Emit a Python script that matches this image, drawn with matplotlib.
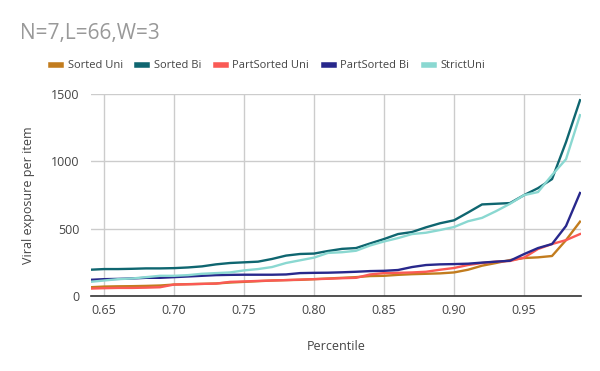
import matplotlib
matplotlib.use("Agg")
import matplotlib.pyplot as plt
from matplotlib.lines import Line2D

percentile = [0.64, 0.65, 0.66, 0.67, 0.68, 0.69, 0.70, 0.71, 0.72, 0.73, 0.74, 0.75,
              0.76, 0.77, 0.78, 0.79, 0.80, 0.81, 0.82, 0.83, 0.84, 0.85, 0.86, 0.87,
              0.88, 0.89, 0.90, 0.91, 0.92, 0.93, 0.94, 0.95, 0.96, 0.97, 0.98, 0.99]

sorted_uni = [65, 70, 72, 73, 75, 78, 85, 88, 90, 93, 100, 105,
              110, 115, 118, 120, 125, 130, 135, 140, 148, 150, 157, 162,
              165, 168, 175, 195, 225, 245, 267, 282, 287, 297, 415, 552]
sorted_bi = [195, 200, 200, 202, 205, 205, 207, 212, 220, 235, 245, 250,
             255, 275, 300, 312, 315, 334, 350, 356, 390, 423, 460, 475,
             510, 540, 562, 620, 680, 685, 690, 749, 801, 868, 1143, 1454]
partsorted_uni = [55, 58, 60, 60, 62, 65, 85, 87, 90, 92, 105, 108,
                  112, 115, 118, 122, 125, 128, 132, 135, 160, 170, 172, 175,
                  180, 195, 208, 230, 245, 255, 260, 285, 349, 386, 415, 460]
partsorted_bi = [120, 125, 127, 130, 135, 135, 140, 145, 150, 155, 157, 158,
                 158, 158, 160, 170, 172, 173, 176, 180, 185, 187, 193, 215,
                 230, 235, 237, 240, 248, 255, 262, 311, 356, 386, 520, 765]
strict_uni = [105, 115, 125, 130, 140, 150, 150, 155, 165, 170, 175, 190,
              200, 215, 245, 265, 285, 320, 325, 336, 375, 405, 430, 460,
              470, 490, 512, 555, 580, 630, 685, 749, 772, 898, 1016, 1343]

series_names = ["Sorted Uni", "Sorted Bi", "PartSorted Uni", "PartSorted Bi", "StrictUni"]
series_values = [sorted_uni, sorted_bi, partsorted_uni, partsorted_bi, strict_uni]
colors = ["#c27c1e", "#0f6670", "#fa5a55", "#28288c", "#8ad8d1"]

x_ticks = [0.65, 0.70, 0.75, 0.80, 0.85, 0.90, 0.95]
y_ticks = [0, 500, 1000, 1500]

plt.rcParams['font.family'] = ['Open Sans', 'DejaVu Sans']

fig = plt.figure(figsize=(6, 3.71), dpi=100)
ax = fig.add_axes([91/600, (371-296)/371, 490/600, (296-94)/371])

order = [4, 1, 3, 0, 2]
for i in order:
    ax.plot(percentile, series_values[i], color=colors[i], lw=1.7, zorder=3 + i * 0.1)

ax.set_xlim(0.6407, 0.9907)
ax.set_ylim(0, 1500)
ax.set_xticks(x_ticks)
ax.set_xticklabels([f"{t:.2f}" for t in x_ticks])
ax.set_yticks(y_ticks)
ax.grid(True, color="#cccccc", lw=1)
ax.set_axisbelow(True)
for s in ["top", "right", "left"]:
    ax.spines[s].set_visible(False)
ax.spines["bottom"].set_color("#333333")
ax.spines["bottom"].set_linewidth(1.2)
ax.tick_params(length=0, labelsize=9, colors="#444444", pad=6)
ax.tick_params(axis="y", pad=8)

ax.set_xlabel("Percentile", fontsize=9, color="#444444", labelpad=16)
ax.set_ylabel("Viral exposure per item", fontsize=9, color="#444444", labelpad=12)

fig.text(20/600, 1 - 33/371, "N=7,L=66,W=3", fontsize=15, color="#999999",
         va="center", ha="left")

handles = [Line2D([], [], color=c, lw=4) for c in colors]
fig.legend(handles, series_names, loc="center", bbox_to_anchor=(268/600, 1 - 66/371),
           ncol=5, frameon=False, fontsize=8, handlelength=0.9, handletextpad=0.6,
           columnspacing=1.3, labelcolor="#444444")

fig.savefig("out.png", dpi=100)
